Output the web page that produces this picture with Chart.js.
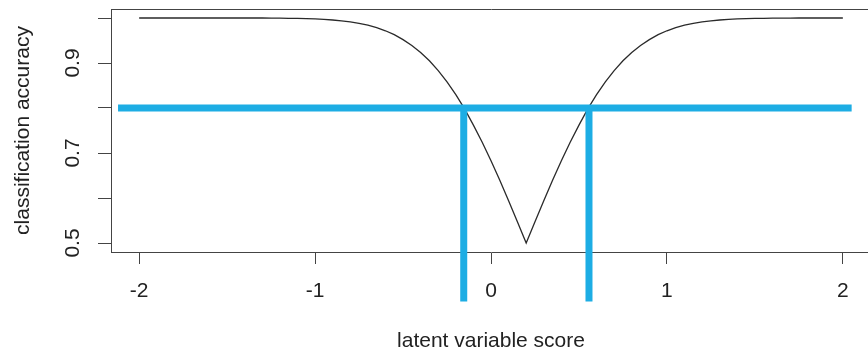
<!DOCTYPE html>
<html>
<head>
<meta charset="utf-8">
<script src="https://cdn.jsdelivr.net/npm/chart.js@4"></script>
<style>
html,body{margin:0;padding:0;background:#fff;overflow:hidden;}
#wrap{width:871px;height:353px;}
</style>
</head>
<body>
<div id="wrap"><canvas id="c" width="871" height="353"></canvas></div>
<script>
// latent variable score grid and classification accuracy
const scoreX = [-2.00,-1.95,-1.90,-1.85,-1.80,-1.75,-1.70,-1.65,-1.60,-1.55,-1.50,-1.45,-1.40,-1.35,-1.30,-1.25,-1.20,-1.15,-1.10,-1.05,
  -1.00,-0.95,-0.90,-0.85,-0.80,-0.75,-0.70,-0.65,-0.60,-0.55,-0.50,-0.45,-0.40,-0.35,-0.30,-0.25,-0.20,-0.15,-0.10,-0.05,
  0.00,0.05,0.10,0.15,0.20,0.25,0.30,0.35,0.40,0.45,0.50,0.55,0.60,0.65,0.70,0.75,0.80,0.85,0.90,0.95,
  1.00,1.05,1.10,1.15,1.20,1.25,1.30,1.35,1.40,1.45,1.50,1.55,1.60,1.65,1.70,1.75,1.80,1.85,1.90,1.95,2.00];
const accuracy = [1.000,1.000,1.000,1.000,1.000,1.000,1.000,1.000,1.000,1.000,1.000,1.000,1.000,1.000,1.000,0.9997,0.9996,0.9993,0.9990,0.9985,
  0.9979,0.9969,0.9956,0.9938,0.9914,0.988,0.984,0.9785,0.9716,0.963,0.952,0.939,0.9235,0.905,0.883,0.858,0.8295,0.798,0.762,0.724,
  0.683,0.6395,0.594,0.547,0.500,0.547,0.594,0.6395,0.683,0.724,0.762,0.798,0.8295,0.858,0.883,0.905,0.9235,0.939,0.952,0.963,
  0.9716,0.9785,0.984,0.988,0.9914,0.9938,0.9956,0.9969,0.9979,0.9985,0.9990,0.9993,0.9996,0.9997,0.9998,1.000,1.000,1.000,1.000,1.000,1.000];

// reference lines
const cutAccuracy = 0.80;
const hLineX = [-2.12, 2.05];
const cutScores = [-0.155, 0.557];
const vLineBottom = 0.37;

// axes
const xTicks = [-2, -1, 0, 1, 2];
const xTickLabels = ['-2', '-1', '0', '1', '2'];
const yTicks = [0.5, 0.6, 0.7, 0.8, 0.9, 1.0];
const yTickLabels = ['0.5', '', '0.7', '', '0.9', ''];
const xRange = [-2.16, 2.16];
const yRange = [0.48, 1.02];
const xTitle = 'latent variable score';
const yTitle = 'classification accuracy';

const blue = '#1DADE4';
const axisColor = '#444';
const textColor = '#222';
const fontFamily = '"Liberation Sans", Arial, Helvetica, sans-serif';

const curve = scoreX.map((x, i) => ({x: x, y: accuracy[i]}));
const hLine = hLineX.map(x => ({x: x, y: cutAccuracy}));

const datasets = [
  {data: curve, borderColor: '#2a2a2a', borderWidth: 1.3, pointRadius: 0, tension: 0, order: 2, clip: false}
];
datasets.push({data: hLine, borderColor: blue, borderWidth: 7, pointRadius: 0, borderCapStyle: 'butt', order: 1, clip: false});
cutScores.forEach(s => {
  datasets.push({data: [{x: s, y: cutAccuracy}, {x: s, y: vLineBottom}], borderColor: blue, borderWidth: 7,
    pointRadius: 0, borderCapStyle: 'butt', order: 1, clip: false});
});

function noPad(s) { s.paddingTop = 0; s.paddingBottom = 0; s.paddingLeft = 0; s.paddingRight = 0; }

new Chart(document.getElementById('c'), {
  type: 'line',
  data: {datasets: datasets},
  options: {
    responsive: false,
    animation: false,
    events: [],
    layout: {padding: 0},
    plugins: {legend: {display: false}, tooltip: {enabled: false}, title: {display: false}},
    scales: {
      x: {
        type: 'linear', position: 'bottom', min: xRange[0], max: xRange[1],
        afterBuildTicks: s => { s.ticks = xTicks.map(v => ({value: v})); },
        afterFit: s => { s.height = 101; noPad(s); },
        ticks: {
          color: textColor, padding: 15, maxRotation: 0, autoSkip: false,
          font: {family: fontFamily, size: 21},
          callback: (v, i) => xTickLabels[i]
        },
        grid: {display: true, drawOnChartArea: false, drawTicks: true, tickLength: 12, tickColor: axisColor, tickWidth: 1},
        border: {display: true, color: axisColor, width: 1},
        title: {display: true, text: xTitle, color: textColor, font: {family: fontFamily, size: 21}, padding: {top: 0, bottom: -1}}
      },
      x2: {
        type: 'linear', axis: 'x', position: 'top', min: xRange[0], max: xRange[1],
        afterFit: s => { s.height = 9; noPad(s); },
        ticks: {display: false},
        grid: {display: false, drawTicks: false},
        border: {display: true, color: axisColor, width: 1}
      },
      y: {
        type: 'linear', position: 'left', min: yRange[0], max: yRange[1],
        afterBuildTicks: s => { s.ticks = yTicks.map(v => ({value: v})); },
        afterFit: s => { s.width = 111; noPad(s); },
        ticks: {
          color: textColor, padding: 10, minRotation: 90, maxRotation: 90, autoSkip: false, crossAlign: 'center',
          font: {family: fontFamily, size: 21},
          callback: (v, i) => yTickLabels[i]
        },
        grid: {display: true, drawOnChartArea: false, drawTicks: true, tickLength: 13, tickColor: axisColor, tickWidth: 1},
        border: {display: true, color: axisColor, width: 1},
        title: {display: true, text: yTitle, color: textColor, font: {family: fontFamily, size: 21}, padding: {top: 11, bottom: 0}}
      }
    }
  }
});
</script>
</body>
</html>
